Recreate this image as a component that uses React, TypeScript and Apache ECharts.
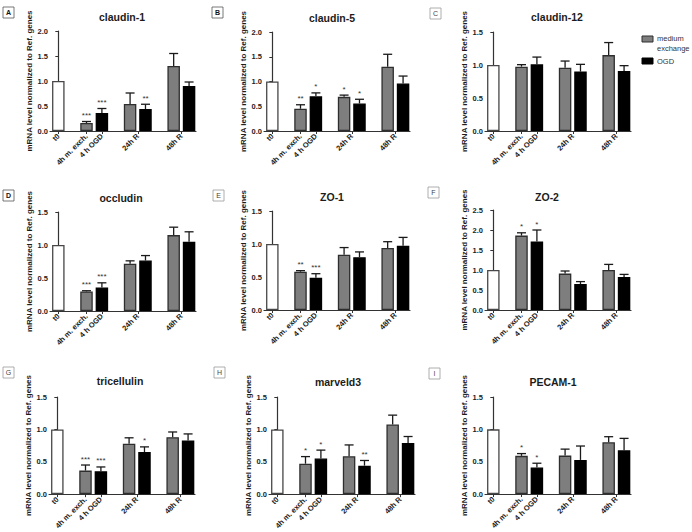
import React, { useEffect, useRef } from "react";
import * as echarts from "echarts";

// ---------- data ----------
const genes = ["claudin-1", "claudin-5", "claudin-12", "occludin", "ZO-1", "ZO-2", "tricellulin", "marveld3", "PECAM-1"];
const panelLetters = ["A", "B", "C", "D", "E", "F", "G", "H", "I"];
const yMaxima = [2.0, 2.0, 1.5, 1.5, 1.5, 2.5, 1.5, 1.5, 1.5];
const xLabels = ["t0", "4h m. exch.", "4 h OGD", "24h R", "48h R"];
const seriesNames = ["medium exchange", "OGD"];
const yAxisTitle = "mRNA level normalized to Ref. genes";
const t0Values = [1, 1, 1, 1, 1, 1, 1, 1, 1];

// per panel: [4h, 24h R, 48h R]
const mediumValues = [
  [0.16, 0.54, 1.3],
  [0.45, 0.69, 1.3],
  [0.975, 0.96, 1.15],
  [0.297, 0.715, 1.15],
  [0.58, 0.836, 0.94],
  [1.86, 0.91, 1.0],
  [0.364, 0.78, 0.88],
  [0.47, 0.585, 1.075],
  [0.59, 0.594, 0.8],
];
const mediumErrors = [
  [0.03, 0.22, 0.25],
  [0.08, 0.035, 0.25],
  [0.03, 0.1, 0.19],
  [0.01, 0.045, 0.12],
  [0.016, 0.11, 0.095],
  [0.07, 0.065, 0.14],
  [0.086, 0.09, 0.08],
  [0.11, 0.175, 0.145],
  [0.035, 0.1, 0.086],
];
const ogdValues = [
  [0.36, 0.44, 0.9],
  [0.7, 0.556, 0.96],
  [1.01, 0.9, 0.91],
  [0.357, 0.765, 1.05],
  [0.49, 0.8, 0.975],
  [1.71, 0.65, 0.825],
  [0.354, 0.65, 0.83],
  [0.55, 0.44, 0.79],
  [0.41, 0.527, 0.676],
];
const ogdErrors = [
  [0.09, 0.095, 0.08],
  [0.07, 0.085, 0.15],
  [0.11, 0.11, 0.08],
  [0.07, 0.075, 0.15],
  [0.06, 0.08, 0.125],
  [0.29, 0.06, 0.065],
  [0.066, 0.08, 0.1],
  [0.13, 0.08, 0.1],
  [0.066, 0.215, 0.184],
];
const mediumStars = [
  ["***", "", ""],
  ["**", "*", ""],
  ["", "", ""],
  ["***", "", ""],
  ["**", "", ""],
  ["*", "", ""],
  ["***", "", ""],
  ["*", "", ""],
  ["*", "", ""],
];
const ogdStars = [
  ["***", "**", ""],
  ["*", "*", ""],
  ["", "", ""],
  ["***", "", ""],
  ["***", "", ""],
  ["*", "", ""],
  ["***", "*", ""],
  ["*", "**", ""],
  ["*", "", ""],
];

// ---------- layout ----------
const FONT = "Liberation Sans, Arial, sans-serif";
const TEXT = "#1c1c1c";
const AXIS = "#333333";
const grids = [
  { left: 50, top: 31, height: 100 },
  { left: 264, top: 32, height: 99 },
  { left: 485, top: 32, height: 99 },
  { left: 50, top: 212, height: 99 },
  { left: 264, top: 211, height: 99 },
  { left: 485, top: 210, height: 100 },
  { left: 49, top: 397, height: 99 },
  { left: 269, top: 397, height: 98 },
  { left: 485, top: 397, height: 97 },
];
const titlePos = [
  [122, 17], [332, 18], [557, 17],
  [121, 198], [332, 197], [547, 197],
  [120, 381], [338, 382], [553, 382],
];
const letterPos = [
  [3, 7], [212, 7], [430, 8],
  [3, 190], [213, 190], [428, 187],
  [3, 367], [214, 367], [429, 368],
];
const GRID_W = 146;
const X_MIN = -0.54;
const X_MAX = 8.94;
const T0_X = 0;
const GROUP_X = [1.83, 4.66, 7.49];
const PAIR = 1.0;
const labelPositions = [T0_X, GROUP_X[0], GROUP_X[0] + PAIR, GROUP_X[1] + PAIR / 2, GROUP_X[2] + PAIR / 2];
const BAR_W = 12.5;

function labelFor(v: number) {
  for (let i = 0; i < labelPositions.length; i++) {
    if (Math.abs(labelPositions[i] - v) < 1e-6) return xLabels[i];
  }
  return "";
}

function buildOption() {
  const grid: any[] = [];
  const xAxis: any[] = [];
  const yAxis: any[] = [];
  const series: any[] = [];
  const title: any[] = [];
  const graphic: any[] = [];

  for (let p = 0; p < 9; p++) {
    const g = grids[p];
    grid.push({ left: g.left, top: g.top, width: GRID_W, height: g.height, containLabel: false });
    xAxis.push({
      type: "value",
      gridIndex: p,
      min: X_MIN,
      max: X_MAX,
      splitLine: { show: false },
      axisLine: { show: true, onZero: false, lineStyle: { color: AXIS, width: 1.2 } },
      axisTick: { show: true, customValues: labelPositions, length: 3, lineStyle: { color: AXIS, width: 1 } },
      axisLabel: {
        customValues: labelPositions,
        rotate: 45,
        margin: 4,
        formatter: (v: number) => labelFor(v),
        fontSize: 7.5,
        fontWeight: "bold",
        fontFamily: FONT,
        color: TEXT,
      },
    });
    yAxis.push({
      type: "value",
      gridIndex: p,
      min: 0,
      max: yMaxima[p],
      interval: 0.5,
      name: yAxisTitle,
      nameLocation: "middle",
      nameGap: 13,
      nameTextStyle: { fontSize: 8, fontWeight: "bold", fontFamily: FONT, color: TEXT },
      splitLine: { show: false },
      axisLine: { show: true, lineStyle: { color: AXIS, width: 1.2 } },
      axisTick: { show: true, length: 3, lineStyle: { color: AXIS, width: 1 } },
      axisLabel: {
        margin: 2,
        fontSize: 7.5,
        fontWeight: "bold",
        fontFamily: FONT,
        color: TEXT,
        formatter: (v: number) => v.toFixed(1),
      },
    });

    const barCommon = {
      type: "bar",
      xAxisIndex: p,
      yAxisIndex: p,
      barWidth: BAR_W,
      barGap: "-100%",
    };
    series.push({
      ...barCommon,
      name: "t0",
      data: [[T0_X, t0Values[p]]],
      itemStyle: { color: "#ffffff", borderColor: "#474747", borderWidth: 1.3 },
    });
    series.push({
      ...barCommon,
      name: seriesNames[0],
      data: GROUP_X.map((x, i) => [x, mediumValues[p][i]]),
      itemStyle: { color: "#7e7e7e", borderColor: "#2e2e2e", borderWidth: 1.3 },
    });
    series.push({
      ...barCommon,
      name: seriesNames[1],
      data: GROUP_X.map((x, i) => [x + PAIR, ogdValues[p][i]]),
      itemStyle: { color: "#000000", borderColor: "#000000", borderWidth: 1.3 },
    });

    const errData: number[][] = [];
    const errStars: string[] = [];
    for (let i = 0; i < 3; i++) {
      errData.push([GROUP_X[i], mediumValues[p][i], mediumErrors[p][i]]);
      errStars.push(mediumStars[p][i]);
      errData.push([GROUP_X[i] + PAIR, ogdValues[p][i], ogdErrors[p][i]]);
      errStars.push(ogdStars[p][i]);
    }
    series.push({
      type: "custom",
      name: "error",
      xAxisIndex: p,
      yAxisIndex: p,
      silent: true,
      z: 5,
      data: errData,
      encode: { x: 0, y: 1 },
      renderItem: (params: any, api: any) => {
        const x = api.value(0);
        const v = api.value(1);
        const e = api.value(2);
        const base = api.coord([x, v]);
        const top = api.coord([x, v + e]);
        const cap = 4.5;
        const star = errStars[params.dataIndex];
        const children: any[] = [
          {
            type: "line",
            shape: { x1: base[0], y1: base[1], x2: top[0], y2: top[1] },
            style: { stroke: "#1a1a1a", lineWidth: 1.3 },
          },
          {
            type: "line",
            shape: { x1: top[0] - cap, y1: top[1], x2: top[0] + cap, y2: top[1] },
            style: { stroke: "#1a1a1a", lineWidth: 1.3 },
          },
        ];
        if (star) {
          children.push({
            type: "text",
            x: top[0],
            y: top[1] - 2,
            style: {
              text: star,
              fontSize: 8,
              fontFamily: FONT,
              fill: "#333",
              align: "center",
              verticalAlign: "bottom",
            },
          });
        }
        return { type: "group", children };
      },
    });

    title.push({
      text: genes[p],
      left: titlePos[p][0],
      top: titlePos[p][1],
      textAlign: "center",
      textVerticalAlign: "middle",
      padding: 0,
      textStyle: { fontSize: 10.5, fontWeight: "bold", fontFamily: FONT, color: TEXT },
    });

    const [lx, ly] = letterPos[p];
    const strong = p === 0 || p === 1 || p === 3;
    graphic.push({
      type: "rect",
      shape: { x: lx, y: ly, width: 11, height: 11 },
      style: { fill: "#fff", stroke: strong ? "#555" : "#999", lineWidth: 0.8 },
    });
    graphic.push({
      type: "text",
      x: lx + 5.5,
      y: ly + 5.7,
      style: {
        text: panelLetters[p],
        fontSize: 7,
        fontWeight: strong ? "bold" : "normal",
        fontFamily: FONT,
        fill: strong ? "#111" : "#444",
        align: "center",
        verticalAlign: "middle",
      },
    });
  }

  // legend drawn as graphic
  graphic.push({
    type: "rect",
    shape: { x: 642, y: 36, width: 11, height: 6 },
    style: { fill: "#7e7e7e", stroke: "#2e2e2e", lineWidth: 1 },
  });
  graphic.push({
    type: "text",
    x: 657,
    y: 38.5,
    style: { text: "medium", fontSize: 7.5, fontFamily: FONT, fill: "#333", verticalAlign: "middle" },
  });
  graphic.push({
    type: "text",
    x: 657,
    y: 48,
    style: { text: "exchange", fontSize: 7.5, fontFamily: FONT, fill: "#333", verticalAlign: "middle" },
  });
  graphic.push({
    type: "rect",
    shape: { x: 642, y: 58, width: 11, height: 6 },
    style: { fill: "#000", stroke: "#000", lineWidth: 1 },
  });
  graphic.push({
    type: "text",
    x: 657,
    y: 61,
    style: { text: seriesNames[1], fontSize: 7.5, fontFamily: FONT, fill: "#333", verticalAlign: "middle" },
  });

  return {
    animation: false,
    backgroundColor: "#ffffff",
    title,
    grid,
    xAxis,
    yAxis,
    series,
    graphic,
  };
}

export default function App() {
  const ref = useRef<HTMLDivElement>(null);
  useEffect(() => {
    if (!ref.current) return;
    const chart = echarts.init(ref.current, undefined, { renderer: "svg" });
    chart.setOption(buildOption() as any);
    return () => chart.dispose();
  }, []);
  return (
    <div
      ref={ref}
      style={{ position: "fixed", left: 0, top: 0, width: 692, height: 532, background: "#fff" }}
    />
  );
}
